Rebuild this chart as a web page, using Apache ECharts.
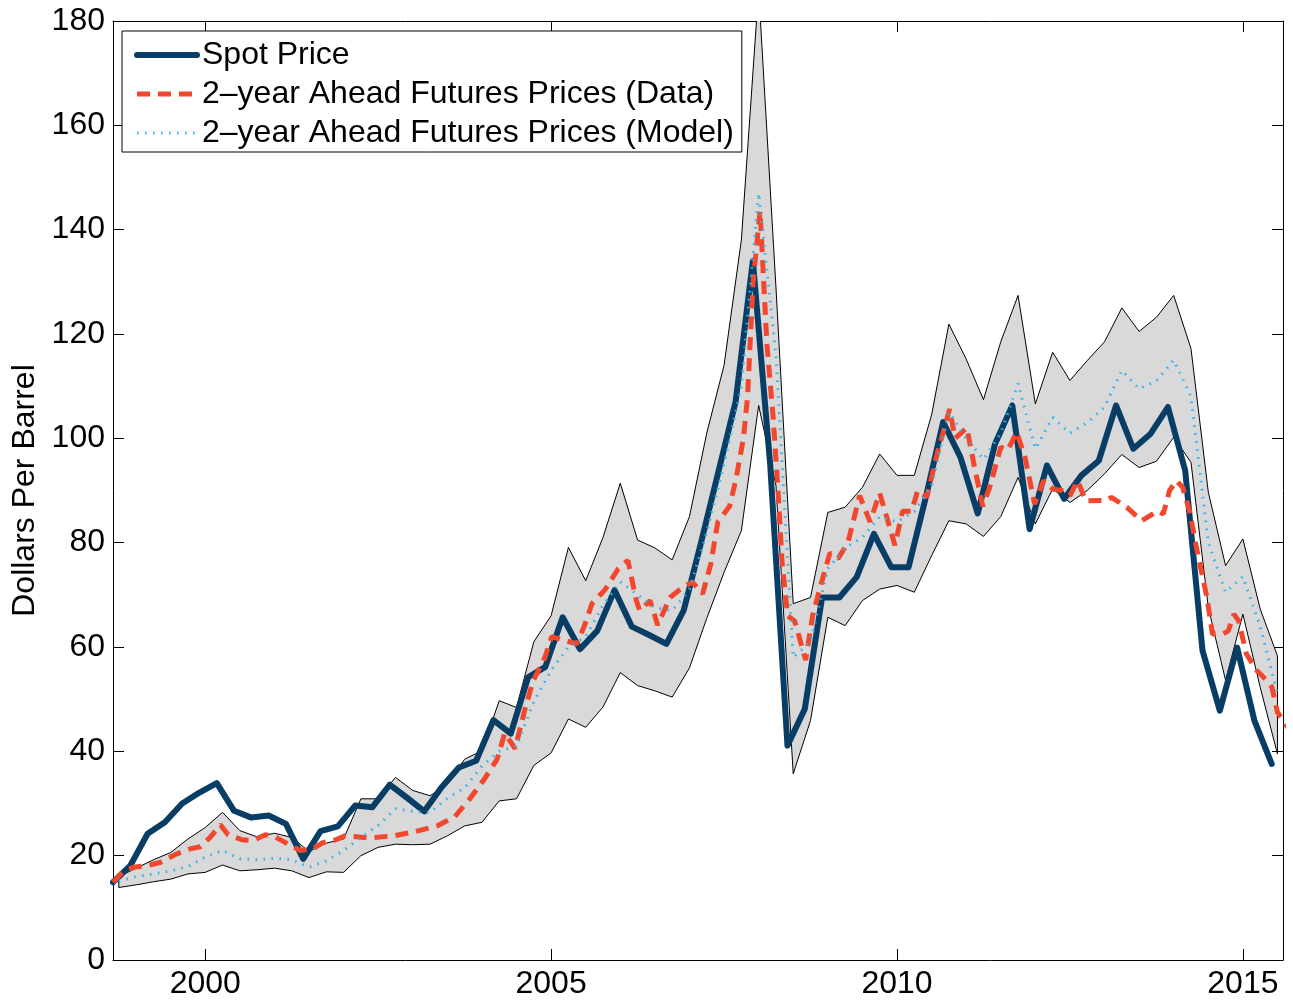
<!DOCTYPE html>
<html>
<head>
<meta charset="utf-8">
<title>Spot and 2-year ahead futures oil prices</title>
<script src="https://cdn.jsdelivr.net/npm/echarts@6/dist/echarts.min.js"></script>
<style>html,body{margin:0;background:#fff}</style>
</head>
<body>
<div id="main" style="width:1293px;height:1008px;"></div>
<script>
// quarterly observations: spot starts Sep 1998, model & band one month later
var spotStart = 1998 + 8 / 12;
var modelStart = 1998 + 9 / 12;
var xMin = 1998 + 8 / 12, xMax = 2015.58;
var xTicks = [2000, 2005, 2010, 2015];

var spot = [14.9, 18.1, 24.2, 26.4, 30.0, 32.1, 33.9, 28.6, 27.3, 27.7, 26.1, 19.4,
  24.7, 25.6, 29.6, 29.3, 33.6, 31.1, 28.5, 33.1, 36.9, 38.2, 46.0, 43.4,
  54.2, 56.2, 65.7, 59.6, 63.1, 70.9, 63.9, 62.3, 60.6, 67.0, 80.0, 93.5,
  107.0, 134.0, 95.0, 41.1, 48.1, 69.5, 69.5, 73.4, 81.7, 75.3, 75.3, 88.7,
  103.1, 96.4, 85.6, 98.9, 106.3, 82.6, 94.8, 88.4, 92.9, 95.7, 106.3, 98.0,
  100.9, 106.0, 93.8, 59.3, 47.8, 59.9, 45.9, 37.6];

var model = [15.1, 16.0, 16.5, 17.1, 17.9, 19.7, 21.0, 19.4, 19.2, 19.5, 19.2, 17.8,
  19.0, 21.0, 23.5, 25.8, 29.0, 28.5, 28.3, 31.0, 33.0, 37.2, 40.0, 41.0,
  49.5, 55.5, 60.0, 62.0, 68.0, 72.5, 70.0, 67.5, 67.0, 71.0, 82.0, 95.0,
  110.0, 147.0, 116.0, 58.0, 61.0, 75.0, 79.0, 81.0, 85.0, 84.0, 86.0, 91.0,
  105.0, 100.0, 96.0, 101.0, 110.5, 98.0, 104.0, 101.0, 103.0, 106.0, 113.0, 109.5,
  111.0, 115.0, 108.0, 80.0, 70.5, 73.5, 64.0, 51.0];

var bandUpper = [16.0, 17.6, 19.2, 20.6, 23.2, 25.4, 28.3, 24.8, 23.6, 24.3, 23.5, 20.8,
  22.4, 23.2, 30.9, 30.9, 35.0, 32.5, 31.5, 33.7, 38.5, 40.1, 49.7, 48.4,
  61.0, 66.0, 79.1, 72.7, 81.0, 91.4, 80.5, 79.0, 76.7, 85.0, 101.0, 114.0,
  138.0, 186.0, 129.0, 68.3, 69.5, 85.8, 86.8, 90.6, 97.0, 92.9, 92.9, 104.5,
  121.9, 115.2, 107.4, 118.5, 127.4, 106.6, 116.5, 111.1, 114.9, 118.5, 125.0, 120.5,
  123.2, 127.4, 117.2, 89.7, 75.6, 80.7, 67.3, 58.3];

var bandLower = [13.9, 14.4, 15.0, 15.5, 16.5, 16.8, 18.2, 17.1, 17.3, 17.6, 17.1, 15.8,
  16.9, 16.8, 20.0, 21.6, 22.2, 22.1, 22.2, 23.8, 25.7, 26.4, 30.5, 30.9,
  37.3, 39.7, 46.2, 44.6, 48.5, 55.1, 52.6, 51.6, 50.4, 56.0, 65.5, 74.3,
  82.3, 106.3, 91.0, 35.7, 45.9, 65.7, 64.1, 68.9, 71.1, 71.8, 70.5, 77.5,
  84.2, 83.6, 81.2, 85.0, 92.5, 83.6, 90.3, 87.7, 90.0, 93.2, 96.9, 94.4,
  95.6, 100.2, 95.4, 67.6, 53.6, 66.3, 52.3, 39.5];

// futures data are monthly-ish: [year, dollars]
var futuresData = [[1998.67, 14.9], [1998.80, 16.8], [1998.96, 17.8], [1999.16, 18.1],
  [1999.35, 18.7], [1999.58, 20.3], [1999.78, 21.3], [1999.93, 21.7], [2000.07, 23.5],
  [2000.22, 25.9], [2000.33, 24.0], [2000.55, 23.0], [2000.69, 22.9], [2000.87, 24.0],
  [2001.01, 23.6], [2001.23, 22.0], [2001.37, 21.0], [2001.55, 21.3], [2001.70, 22.5],
  [2001.88, 23.0], [2002.02, 23.8], [2002.38, 23.4], [2002.72, 23.8], [2003.00, 24.5],
  [2003.35, 25.7], [2003.61, 27.5], [2003.83, 31.0], [2004.02, 34.4], [2004.22, 38.5],
  [2004.33, 43.5], [2004.48, 40.5], [2004.62, 48.0], [2004.74, 53.5], [2004.91, 58.0],
  [2005.01, 62.0], [2005.13, 61.5], [2005.37, 60.6], [2005.48, 64.0], [2005.59, 68.3],
  [2005.78, 71.0], [2005.97, 75.0], [2006.11, 76.6], [2006.23, 69.0], [2006.28, 67.0],
  [2006.43, 68.9], [2006.54, 64.2], [2006.72, 69.5], [2006.86, 71.0], [2007.04, 72.5],
  [2007.19, 70.2], [2007.31, 76.0], [2007.41, 84.0], [2007.58, 87.0], [2007.67, 92.0],
  [2007.78, 100.0], [2007.84, 108.0], [2007.92, 130.0], [2008.02, 143.6], [2008.12, 118.0],
  [2008.21, 104.0], [2008.28, 90.0], [2008.34, 76.0], [2008.42, 66.0], [2008.52, 65.0],
  [2008.68, 57.5], [2008.78, 66.0], [2008.88, 71.0], [2009.03, 78.0], [2009.15, 77.0],
  [2009.29, 80.0], [2009.46, 89.0], [2009.61, 84.0], [2009.75, 89.5], [2009.97, 79.5],
  [2010.08, 86.0], [2010.21, 86.0], [2010.30, 90.0], [2010.43, 88.7], [2010.58, 97.0],
  [2010.76, 105.6], [2010.84, 100.0], [2011.01, 102.0], [2011.12, 94.5], [2011.24, 87.0],
  [2011.34, 90.6], [2011.50, 98.3], [2011.60, 97.7], [2011.73, 101.2], [2011.85, 96.4],
  [2011.99, 87.4], [2012.12, 91.9], [2012.25, 90.3], [2012.38, 90.0], [2012.50, 89.0],
  [2012.61, 91.9], [2012.73, 88.0], [2013.03, 88.1], [2013.10, 88.7], [2013.32, 86.8],
  [2013.54, 84.2], [2013.77, 86.1], [2013.85, 85.5], [2013.94, 90.0], [2014.04, 91.9],
  [2014.13, 90.6], [2014.23, 86.0], [2014.33, 79.0], [2014.48, 69.5], [2014.56, 62.5],
  [2014.71, 62.5], [2014.79, 63.1], [2014.87, 66.3], [2014.94, 65.0], [2015.05, 58.7],
  [2015.20, 55.5], [2015.30, 54.2], [2015.42, 52.3], [2015.50, 47.5], [2015.68, 44.0]];

var names = ['Spot Price', '2\u2013year Ahead Futures Prices (Data)', '2\u2013year Ahead Futures Prices (Model)'];
var FONT = 'Liberation Sans, Arial, sans-serif';

function quarterly(start, vals) {
  return vals.map(function (v, k) { return [start + k * 0.25, v]; });
}

var myChart = echarts.init(document.getElementById('main'));

var boxAxis = {
  type: 'value', min: xMin, max: xMax,
  axisLine: { show: true, onZero: false, lineStyle: { color: '#000', width: 1 } },
  axisTick: { show: true, inside: true, length: 11, customValues: xTicks, lineStyle: { color: '#000' } },
  splitLine: { show: false }
};

var option = {
  animation: false,
  backgroundColor: '#fff',
  grid: { left: 113, right: 10, top: 21, bottom: 48 },
  legend: {
    orient: 'vertical', left: 122, top: 31, z: 10,
    data: names,
    selectedMode: false,
    itemWidth: 60, itemHeight: 14, itemGap: 7,
    padding: [8, 8, 3, 12],
    borderColor: '#000', borderWidth: 1, borderRadius: 0, backgroundColor: '#fff',
    itemStyle: { opacity: 0 },
    lineStyle: { width: 'inherit', opacity: 1 },
    textStyle: { fontSize: 32, lineHeight: 32, color: '#000', fontFamily: FONT }
  },
  xAxis: [
    Object.assign({}, boxAxis, {
      position: 'bottom',
      axisLabel: {
        customValues: xTicks, fontSize: 32, color: '#000', margin: 8, fontFamily: FONT,
        formatter: function (v) { return String(v); }
      }
    }),
    Object.assign({}, boxAxis, { position: 'top', axisLabel: { show: false } })
  ],
  yAxis: [
    {
      type: 'value', min: 0, max: 180, interval: 20, position: 'left',
      name: 'Dollars Per Barrel', nameLocation: 'middle', nameGap: 72,
      nameTextStyle: { fontSize: 32, color: '#000', fontFamily: FONT },
      axisLine: { show: true, lineStyle: { color: '#000', width: 1 } },
      axisTick: { show: true, inside: true, length: 11, lineStyle: { color: '#000' } },
      axisLabel: { fontSize: 32, color: '#000', margin: 8, fontFamily: FONT },
      splitLine: { show: false }
    },
    {
      type: 'value', min: 0, max: 180, interval: 20, position: 'right',
      axisLine: { show: true, lineStyle: { color: '#000', width: 1 } },
      axisTick: { show: true, inside: true, length: 11, lineStyle: { color: '#000' } },
      axisLabel: { show: false },
      splitLine: { show: false }
    }
  ],
  series: [
    { // shaded band between model bounds
      type: 'custom', z: 1, clip: true, silent: true,
      data: [[modelStart, bandLower[0]]],
      renderItem: function (params, api) {
        var pts = [], k;
        for (k = 0; k < bandUpper.length; k++) pts.push(api.coord([modelStart + k * 0.25, bandUpper[k]]));
        for (k = bandLower.length - 1; k >= 0; k--) pts.push(api.coord([modelStart + k * 0.25, bandLower[k]]));
        return {
          type: 'polygon',
          shape: { points: pts },
          style: { fill: '#d9d9d9', stroke: '#000', lineWidth: 1 }
        };
      }
    },
    {
      name: names[0], type: 'line', z: 2, symbol: 'none',
      data: quarterly(spotStart, spot),
      lineStyle: { color: '#083e66', width: 6, join: 'round', cap: 'round' },
      itemStyle: { color: '#083e66' }
    },
    {
      name: names[1], type: 'line', z: 3, symbol: 'none',
      data: futuresData,
      lineStyle: { color: '#f2462d', width: 5, type: [13, 8] },
      itemStyle: { color: '#f2462d' }
    },
    {
      name: names[2], type: 'line', z: 4, symbol: 'none',
      data: quarterly(modelStart, model),
      lineStyle: { color: '#2fb2ea', width: 3, type: [1.5, 6.5] },
      itemStyle: { color: '#2fb2ea' }
    }
  ]
};

myChart.setOption(option);
</script>
</body>
</html>
